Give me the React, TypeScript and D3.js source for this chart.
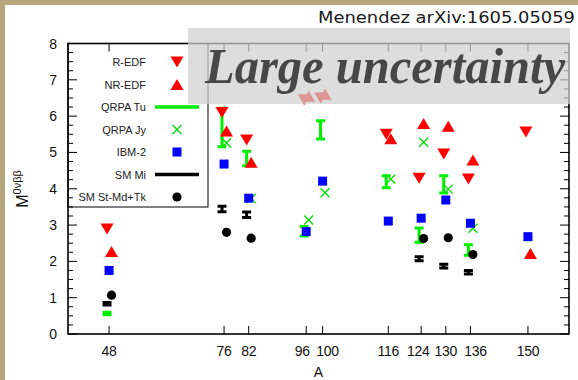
import React from 'react';
import * as d3 from 'd3';

const W = 578;
const H = 380;

// Mass numbers of the 0νββ candidates
const nuclei = [48, 76, 82, 96, 100, 116, 124, 130, 136, 150];
// small horizontal nudges (px) so the crowded tick labels do not collide
const labelNudge = [0, 0, 0, -4, 5, 0, -3, 0, 5, 0];

// Nuclear matrix elements by method (null = not computed)
const rEdf = [2.89, 6.1, 5.34, 6.45, 6.5, 5.5, 4.29, 4.96, 4.27, 5.56];
const nrEdf = [2.27, 5.59, 4.73, 6.55, 6.6, 5.38, 5.8, 5.72, 4.79, 2.22];
const qrpaTuLo = [0.53, 5.16, 4.63, 2.7, 5.37, 4.03, 2.53, 3.88, 2.17, null];
const qrpaTuHi = [0.6, 6.22, 5.03, 2.96, 5.87, 4.36, 2.92, 4.36, 2.46, null];
const qrpaJy = [null, 5.26, 3.73, 3.14, 3.89, 4.26, 5.28, 3.99, 2.91, null];
const ibm2 = [1.75, 4.68, 3.74, 2.82, 4.21, 3.11, 3.19, 3.69, 3.05, 2.68];
const smMiLo = [0.8, 3.37, 3.21, null, null, null, 2.02, 1.82, 1.65, null];
const smMiHi = [0.87, 3.52, 3.36, null, null, null, 2.13, 1.92, 1.75, null];
const smStMdTk = [1.07, 2.8, 2.64, null, null, null, 2.63, 2.65, 2.19, null];

const yMajor = [0, 1, 2, 3, 4, 5, 6, 7, 8];
const legendLabels = ['R-EDF', 'NR-EDF', 'QRPA Tu', 'QRPA Jy', 'IBM-2', 'SM Mi', 'SM St-Md+Tk'];

// horizontal shift (in A) so overlapping methods stay readable
const shift = { rEdf: -0.5, nrEdf: 0.6, tu: -0.5, jy: 0.6, ibm: 0, mi: -0.5, st: 0.6 };

const RED = '#ff0000';
const GREEN = '#00f000';
const GREEN_X = '#00dd00';
const BLUE = '#0000ff';
const SANS = '"Liberation Sans", Arial, Helvetica, sans-serif';

const L = 68, R = 569, T = 43.5, B = 334;
const x = d3.scaleLinear().domain([38, 160]).range([L, R]);
const y = d3.scaleLinear().domain([0, 8]).range([B, T]);

const TriDown = ({ cx, cy }: { cx: number; cy: number }) => (
  <path d={`M${cx - 6.5},${cy - 5.5}L${cx + 6.5},${cy - 5.5}L${cx},${cy + 5.5}Z`} fill={RED} />
);
const TriUp = ({ cx, cy }: { cx: number; cy: number }) => (
  <path d={`M${cx - 6.5},${cy + 5.5}L${cx + 6.5},${cy + 5.5}L${cx},${cy - 5.5}Z`} fill={RED} />
);
const Cross = ({ cx, cy }: { cx: number; cy: number }) => (
  <path d={`M${cx - 4.5},${cy - 4.5}L${cx + 4.5},${cy + 4.5}M${cx - 4.5},${cy + 4.5}L${cx + 4.5},${cy - 4.5}`} stroke={GREEN_X} strokeWidth={1.3} fill="none" />
);
const Square = ({ cx, cy }: { cx: number; cy: number }) => (
  <rect x={cx - 4.5} y={cy - 4.5} width={9} height={9} fill={BLUE} />
);
const Dot = ({ cx, cy }: { cx: number; cy: number }) => <circle cx={cx} cy={cy} r={4.6} fill="#000" />;
const Bar = ({ cx, y0, y1, color }: { cx: number; y0: number; y1: number; color: string }) => (
  <path
    d={`M${cx},${y0}L${cx},${y1}M${cx - 4.5},${y0}L${cx + 4.5},${y0}M${cx - 4.5},${y1}L${cx + 4.5},${y1}`}
    stroke={color}
    strokeWidth={3}
    fill="none"
  />
);

export default function App() {
  const minor = d3.range(0, 8.001, 0.25).filter((v) => Math.abs(v - Math.round(v)) > 1e-6);
  const legendY = (i: number) => 62 + i * 22.5;
  const symX = 177;

  return (
    <svg width={W} height={H} style={{ position: 'absolute', left: 0, top: 0, display: 'block' }}>
      <rect x={0} y={0} width={W} height={H} fill="#b7a67b" />
      <rect x={5} y={5} width={W - 5} height={H - 5} fill="#ffffff" />

      {/* ticks */}
      <g stroke="#000" strokeWidth={1}>
        {yMajor.map((v) => (
          <g key={'ym' + v}>
            <line x1={L} x2={L + 9} y1={y(v)} y2={y(v)} />
            <line x1={R} x2={R - 9} y1={y(v)} y2={y(v)} />
          </g>
        ))}
        {minor.map((v) => (
          <g key={'yn' + v}>
            <line x1={L} x2={L + 5} y1={y(v)} y2={y(v)} />
            <line x1={R} x2={R - 5} y1={y(v)} y2={y(v)} />
          </g>
        ))}
        {nuclei.map((a) => (
          <g key={'xt' + a}>
            <line x1={x(a)} x2={x(a)} y1={B} y2={B - 8} />
            <line x1={x(a)} x2={x(a)} y1={T} y2={T + 8} />
          </g>
        ))}
      </g>

      {/* tick labels */}
      <g fontFamily={SANS} fontSize={14} fill="#111">
        {yMajor.map((v) => (
          <text key={'yl' + v} x={57} y={y(v) + 5} textAnchor="end">
            {v}
          </text>
        ))}
        {nuclei.map((a, i) => (
          <text key={'xl' + a} x={x(a) + labelNudge[i]} y={356} textAnchor="middle" letterSpacing={-0.3}>
            {a}
          </text>
        ))}
        <text x={(L + R) / 2} y={377} textAnchor="middle">A</text>
        <text transform="translate(28,189) rotate(-90)" textAnchor="middle" fontSize={16}>
          M
          <tspan fontSize={11} dy={-7}>0νββ</tspan>
        </text>
      </g>

      {/* data */}
      {nuclei.map((a, i) => (
        <g key={'d' + a}>
          {qrpaTuLo[i] != null && (
            <Bar cx={x(a + shift.tu)} y0={y(qrpaTuLo[i] as number)} y1={y(qrpaTuHi[i] as number)} color={GREEN} />
          )}
          {smMiLo[i] != null && (
            <Bar cx={x(a + shift.mi)} y0={y(smMiLo[i] as number)} y1={y(smMiHi[i] as number)} color="#000" />
          )}
          <TriDown cx={x(a + shift.rEdf)} cy={y(rEdf[i])} />
          <TriUp cx={x(a + shift.nrEdf)} cy={y(nrEdf[i])} />
          {qrpaJy[i] != null && <Cross cx={x(a + shift.jy)} cy={y(qrpaJy[i] as number)} />}
          <Square cx={x(a + shift.ibm)} cy={y(ibm2[i])} />
          {smStMdTk[i] != null && <Dot cx={x(a + shift.st)} cy={y(smStMdTk[i] as number)} />}
        </g>
      ))}

      {/* frame */}
      <rect x={L} y={T} width={R - L} height={B - T} fill="none" stroke="#000" strokeWidth={1.6} />

      {/* legend */}
      <rect x={L} y={T} width={140} height={163.5} fill="none" stroke="#000" strokeWidth={1} />
      <g fontFamily={SANS} fontSize={11} fill="#222">
        {legendLabels.map((t, i) => (
          <text key={t} x={146} y={legendY(i) + 4} textAnchor="end">
            {t}
          </text>
        ))}
      </g>
      <TriDown cx={symX} cy={legendY(0)} />
      <TriUp cx={symX} cy={legendY(1)} />
      <line x1={155} x2={199} y1={legendY(2)} y2={legendY(2)} stroke={GREEN} strokeWidth={3.5} />
      <Cross cx={symX} cy={legendY(3)} />
      <Square cx={symX} cy={legendY(4)} />
      <line x1={155} x2={199} y1={legendY(5)} y2={legendY(5)} stroke="#000" strokeWidth={3.5} />
      <Dot cx={symX} cy={legendY(6)} />

      {/* highlighted note */}
      <rect x={188} y={28} width={382} height={76} fill="#d0d0d0" fillOpacity={0.72} />
      <text
        x={205}
        y={83}
        fontFamily='"Liberation Serif", "Times New Roman", serif'
        fontStyle="italic"
        fontWeight="bold"
        fontSize={50}
        fill="#474747"
        textLength={360}
        lengthAdjust="spacingAndGlyphs"
      >
        Large uncertainty
      </text>

      <text
        x={318}
        y={23}
        fontFamily='"DejaVu Sans", sans-serif'
        fontSize={16}
        fill="#1a1a1a"
        textLength={257}
        lengthAdjust="spacingAndGlyphs"
      >
        Menendez arXiv:1605.05059
      </text>
    </svg>
  );
}
